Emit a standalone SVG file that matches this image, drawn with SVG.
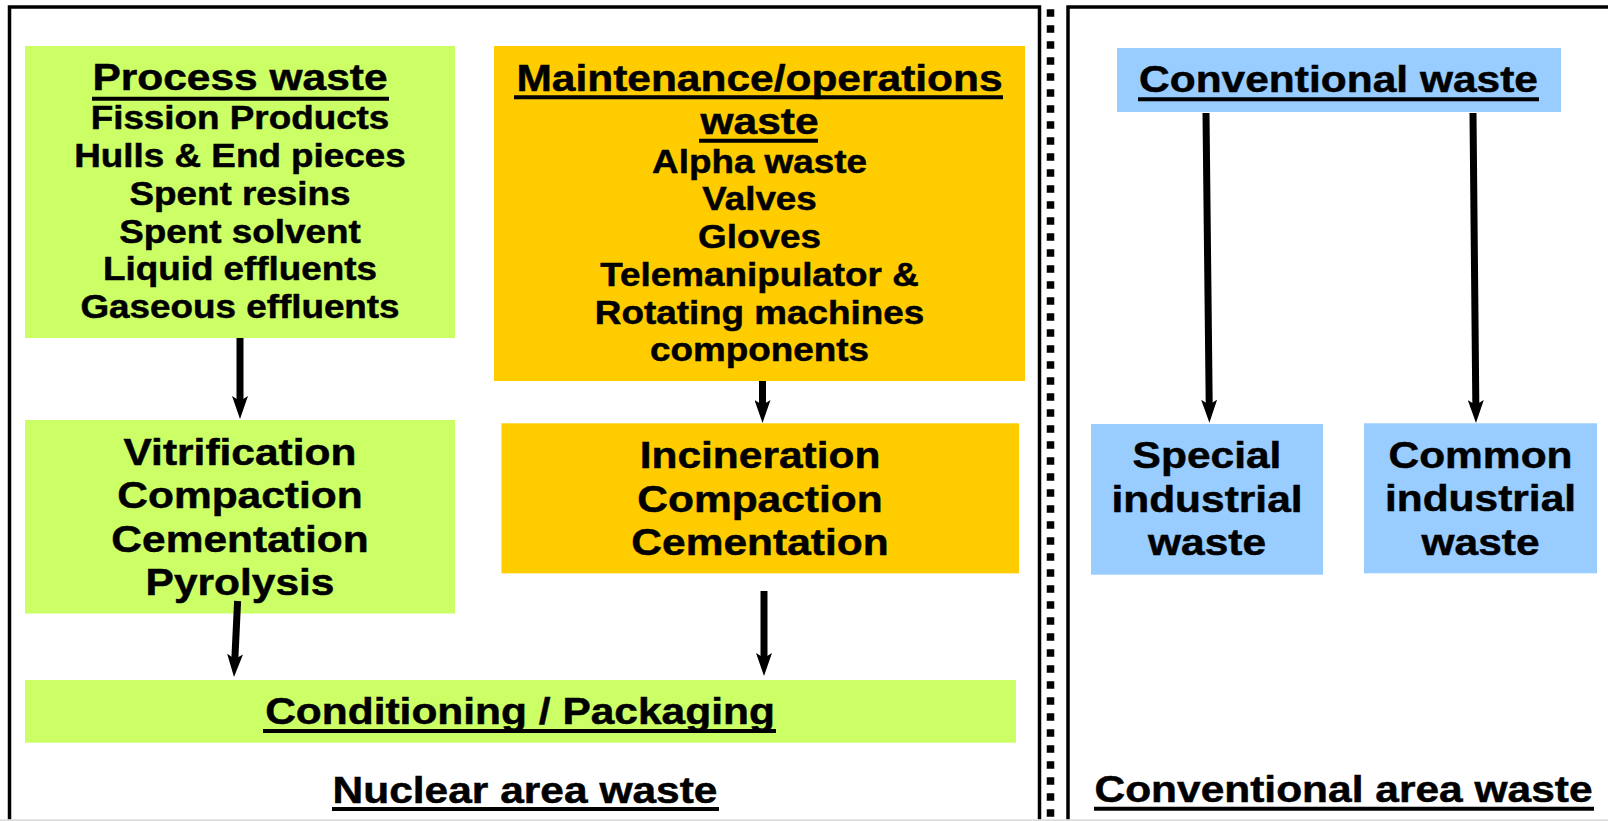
<svg xmlns="http://www.w3.org/2000/svg" width="1608" height="821" viewBox="0 0 1608 821">
<style>
.h{font-family:"Liberation Sans",Arial,sans-serif;font-weight:bold;font-size:37.6px;text-anchor:middle;fill:#000;stroke:#000;stroke-width:0.5}
.t{font-family:"Liberation Sans",Arial,sans-serif;font-weight:bold;font-size:32.6px;text-anchor:middle;fill:#000;stroke:#000;stroke-width:0.5}
.ul{stroke:#000;stroke-width:4}
.frame{fill:none;stroke:#000;stroke-width:3.5}
.arr{stroke:#000;stroke-width:7;fill:none;marker-end:url(#ah)}
.green{fill:#CCFF66}
.orange{fill:#FFCC00}
.blue{fill:#99CCFF}
</style>
<defs>
<marker id="ah" markerUnits="userSpaceOnUse" viewBox="0 0 23 16" markerWidth="23" markerHeight="16" refX="9" refY="8" orient="auto">
<path d="M0,0 L23,8 L0,16 L5,8 Z" fill="#000"/>
</marker>
</defs>
<rect x="0" y="0" width="1608" height="821" fill="#fff"/>
<g id="frames">
<path class="frame" d="M9.5,819.5 V7 H1039.5 V819.5"/>
<line x1="1050.5" y1="9.3" x2="1050.5" y2="821" stroke="#000" stroke-width="7.5" stroke-dasharray="7.5 8.5"/>
<path class="frame" d="M1068,819.5 V7 H1612"/>
<rect x="0" y="819.3" width="1608" height="1.7" fill="#dcdcdc"/>
</g>
<g id="process">
<rect class="green" x="25" y="46" width="430" height="292"/>
<g transform="translate(240 0) scale(1.13 1)">
<text class="h" x="0" y="90">Process waste</text>
<text class="t" x="0" y="129.3">Fission Products</text>
<text class="t" x="0" y="167.1">Hulls &amp; End pieces</text>
<text class="t" x="0" y="204.9">Spent resins</text>
<text class="t" x="0" y="242.7">Spent solvent</text>
<text class="t" x="0" y="280.5">Liquid effluents</text>
<text class="t" x="0" y="318.3">Gaseous effluents</text>
</g>
<line class="ul" x1="92" y1="98.7" x2="389" y2="98.7"/>
</g>
<g id="maintenance">
<rect class="orange" x="494" y="46" width="531" height="335"/>
<g transform="translate(759.5 0) scale(1.13 1)">
<text class="h" x="0" y="91">Maintenance/operations</text>
<text class="h" x="0" y="134">waste</text>
<text class="t" x="0" y="172.8">Alpha waste</text>
<text class="t" x="0" y="210.5">Valves</text>
<text class="t" x="0" y="248.2">Gloves</text>
<text class="t" x="0" y="285.9">Telemanipulator &amp;</text>
<text class="t" x="0" y="323.6">Rotating machines</text>
<text class="t" x="0" y="361.3">components</text>
</g>
<line class="ul" x1="514" y1="97.2" x2="1003" y2="97.2"/>
<line class="ul" x1="699" y1="140.8" x2="818" y2="140.8"/>
</g>
<g id="vitrification">
<rect class="green" x="25" y="420" width="430" height="193.5"/>
<g transform="translate(240 0) scale(1.13 1)">
<text class="h" x="0" y="465">Vitrification</text>
<text class="h" x="0" y="508.3">Compaction</text>
<text class="h" x="0" y="551.6">Cementation</text>
<text class="h" x="0" y="594.9">Pyrolysis</text>
</g>
</g>
<g id="incineration">
<rect class="orange" x="501.5" y="423.3" width="517.5" height="150"/>
<g transform="translate(760 0) scale(1.13 1)">
<text class="h" x="0" y="468.3">Incineration</text>
<text class="h" x="0" y="511.6">Compaction</text>
<text class="h" x="0" y="554.9">Cementation</text>
</g>
</g>
<g id="conditioning">
<rect class="green" x="25" y="680" width="991" height="62.7"/>
<g transform="translate(520 0) scale(1.13 1)">
<text class="h" x="0" y="724">Conditioning / Packaging</text>
</g>
<line class="ul" x1="263" y1="731" x2="776" y2="731"/>
</g>
<g id="nuclear-label">
<g transform="translate(525 0) scale(1.13 1)">
<text class="h" x="0" y="803">Nuclear area waste</text>
</g>
<line class="ul" x1="332" y1="809" x2="719" y2="809"/>
</g>
<g id="conventional">
<rect class="blue" x="1117" y="48" width="444" height="64"/>
<g transform="translate(1338.5 0) scale(1.13 1)">
<text class="h" x="0" y="92.5">Conventional waste</text>
</g>
<line class="ul" x1="1138" y1="99.2" x2="1539" y2="99.2"/>
</g>
<g id="special">
<rect class="blue" x="1091" y="424" width="232" height="150.7"/>
<g transform="translate(1207 0) scale(1.13 1)">
<text class="h" x="0" y="468.3">Special</text>
<text class="h" x="0" y="511.7">industrial</text>
<text class="h" x="0" y="555.5">waste</text>
</g>
</g>
<g id="common">
<rect class="blue" x="1364" y="423.3" width="233" height="150"/>
<g transform="translate(1480.5 0) scale(1.13 1)">
<text class="h" x="0" y="468">Common</text>
<text class="h" x="0" y="511.5">industrial</text>
<text class="h" x="0" y="555">waste</text>
</g>
</g>
<g id="conventional-label">
<g transform="translate(1343.5 0) scale(1.13 1)">
<text class="h" x="0" y="802.5">Conventional area waste</text>
</g>
<line class="ul" x1="1094" y1="808.7" x2="1594" y2="808.7"/>
</g>
<g id="connectors">
<line class="arr" x1="240" y1="338" x2="240" y2="405"/>
<line class="arr" x1="762.5" y1="381" x2="762.5" y2="409"/>
<line class="arr" x1="237.6" y1="601" x2="234.66" y2="663"/>
<line class="arr" x1="764" y1="591" x2="764" y2="662"/>
<line class="arr" x1="1206" y1="113" x2="1209.25" y2="408.7"/>
<line class="arr" x1="1473" y1="113" x2="1475.86" y2="409"/>
</g>
</svg>
